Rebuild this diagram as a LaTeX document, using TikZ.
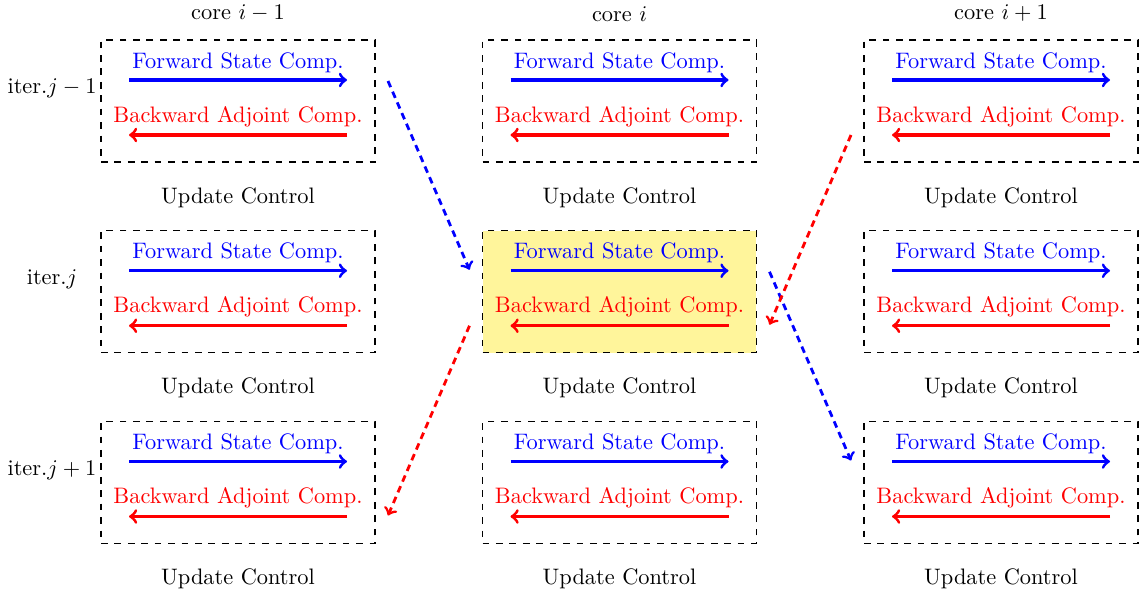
\documentclass[tikz,border=0pt]{standalone}
\begin{document}
\begin{tikzpicture}[x=0.4468pt,y=-0.4468pt,
  box/.style={draw,dashed,semithick,minimum width=122.4pt,minimum height=54.5pt,inner sep=0pt},
  hot/.style={fill=hlyellow},
  fwd/.style={blue,line width=1.35pt,->},
  bwd/.style={red,line width=1.35pt,->},
  lbl/.style={inner sep=0pt,anchor=center},
  link/.style={line width=1.25pt,dash pattern=on 3pt off 2.2pt,->}]
\definecolor{hlyellow}{RGB}{255,245,155}
\useasboundingbox (0,0) rectangle (1144,597);
\foreach \c in {0,1,2}{
  \foreach \r in {0,1,2}{
    \pgfmathsetmacro{\cx}{238+381.5*\c}
    \pgfmathsetmacro{\cy}{101+190.75*\r}
    \ifnum\c=1 \ifnum\r=1
      \node[box,hot] (b\c\r) at (\cx,\cy) {};
    \else
      \node[box] (b\c\r) at (\cx,\cy) {};
    \fi\else
      \node[box] (b\c\r) at (\cx,\cy) {};
    \fi
    \node[lbl,blue] (f\c\r) at (\cx,\cy-38.5) {Forward State Comp.};
    \node[lbl,red] (k\c\r) at (\cx,\cy+15.5) {Backward Adjoint Comp.};
    \node[lbl] (u\c\r) at (\cx,\cy+96.5) {Update Control};
    \coordinate (fs\c\r) at (\cx-109,\cy-21);
    \coordinate (fe\c\r) at (\cx+109,\cy-21);
    \coordinate (bs\c\r) at (\cx+109,\cy+34);
    \coordinate (be\c\r) at (\cx-109,\cy+34);
    \coordinate (fr\c\r) at (\cx+150,\cy-20);
    \coordinate (fl\c\r) at (\cx-150,\cy-22);
    \coordinate (br\c\r) at (\cx+150,\cy+33);
    \coordinate (bl\c\r) at (\cx-150,\cy+34);
    \draw[fwd] (fs\c\r) -- (fe\c\r);
    \draw[bwd] (bs\c\r) -- (be\c\r);
  }
}
\node[lbl] (c0) at (238,13) {core $i-1$};
\node[lbl] (c1) at (619.5,14) {core $i$};
\node[lbl] (c2) at (1001,13) {core $i+1$};
\node[lbl] (i0) at (52,88) {iter.$j-1$};
\node[lbl] (i1) at (52,279) {iter.$j$};
\node[lbl] (i2) at (52,470) {iter.$j+1$};
\draw[link,blue] (fr00) -- (fl11);
\draw[link,blue] (fr11) -- (fl22);
\draw[link,red] (bl20) -- (br11);
\draw[link,red] (bl11) -- (br02);
\end{tikzpicture}
\end{document}
